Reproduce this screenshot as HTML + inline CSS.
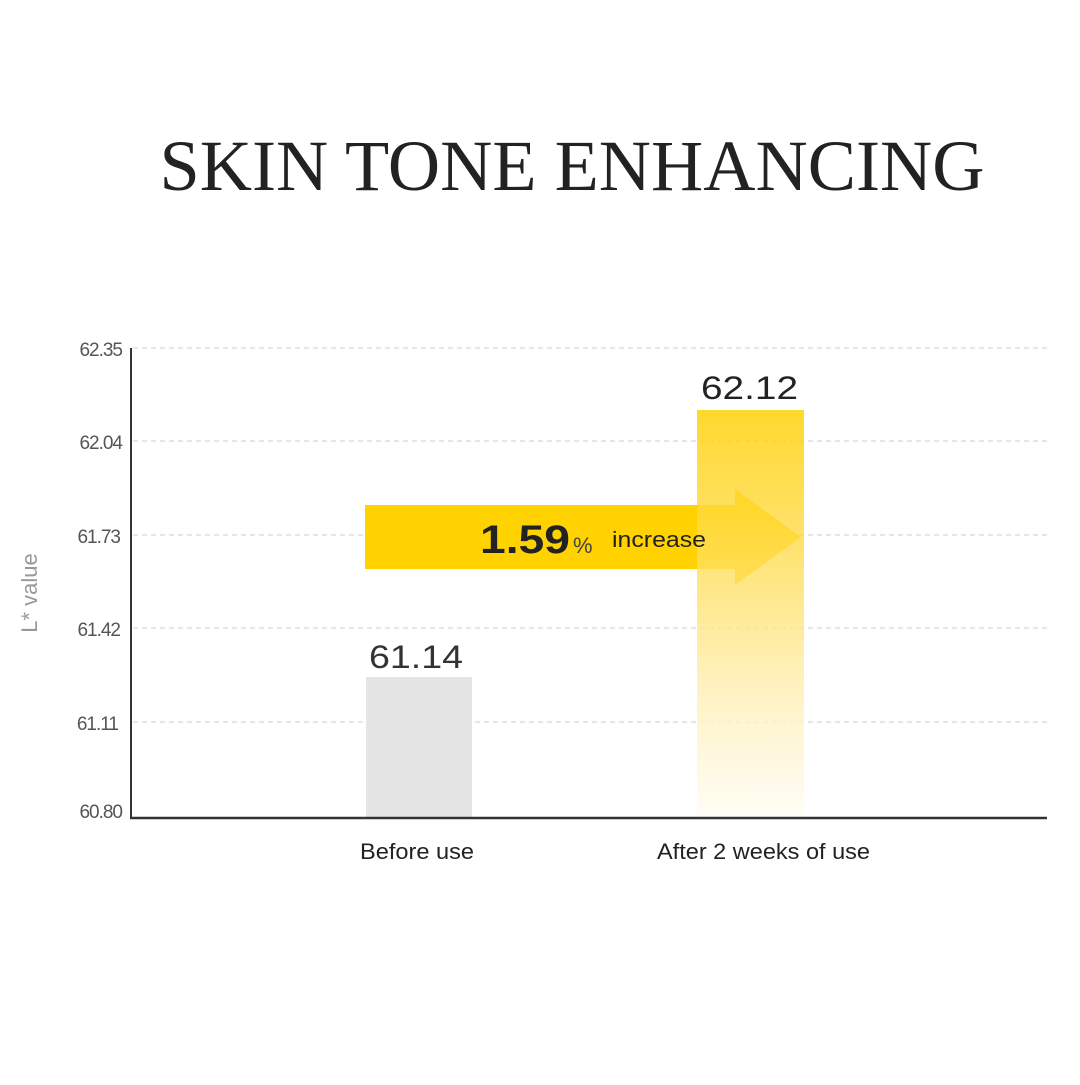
<!DOCTYPE html>
<html><head><meta charset="utf-8"><style>
html,body{margin:0;padding:0;background:#fff;}
body{width:1080px;height:1080px;position:relative;overflow:hidden;}
</style></head><body>
<svg width="1080" height="1080" viewBox="0 0 1080 1080" xmlns="http://www.w3.org/2000/svg">
<defs>
<linearGradient id="yg" x1="0" y1="0" x2="0" y2="1">
<stop offset="0" stop-color="#FFD000"/>
<stop offset="0.35" stop-color="#FFDD55"/>
<stop offset="0.7" stop-color="#FFF0B8"/>
<stop offset="1" stop-color="#FFFDF5"/>
</linearGradient>
</defs>
<text x="572" y="190" text-anchor="middle" font-family="Liberation Serif, serif" font-size="72" fill="#222" textLength="825" lengthAdjust="spacingAndGlyphs">SKIN TONE ENHANCING</text>
<g stroke="#ccc" stroke-width="1" stroke-dasharray="5,4">
<line x1="133" y1="348" x2="1047" y2="348"/>
<line x1="133" y1="441" x2="1047" y2="441"/>
<line x1="133" y1="535" x2="1047" y2="535"/>
<line x1="133" y1="628" x2="1047" y2="628"/>
<line x1="133" y1="722" x2="1047" y2="722"/>
</g>
<g font-family="Liberation Sans, sans-serif" font-size="19" fill="#555" text-anchor="end" letter-spacing="-1">
<text x="122" y="356">62.35</text>
<text x="122" y="449">62.04</text>
<text x="120" y="543">61.73</text>
<text x="120" y="636">61.42</text>
<text x="118" y="730">61.11</text>
<text x="122" y="818">60.80</text>
</g>
<text transform="translate(37,593) rotate(-90)" text-anchor="middle" font-family="Liberation Sans, sans-serif" font-size="22" fill="#999">L* value</text>
<rect x="366" y="677" width="106" height="140" fill="#e5e5e5"/>
<polygon points="365,505 735,505 735,489 801,537 735,585 735,569 365,569" fill="#FFD200"/>
<rect x="697" y="410" width="107" height="407" fill="url(#yg)" fill-opacity="0.82"/>
<line x1="131" y1="348" x2="131" y2="818" stroke="#333" stroke-width="2"/>
<line x1="130" y1="818" x2="1047" y2="818" stroke="#333" stroke-width="2.5"/>
<text x="369" y="668" font-family="Liberation Sans, sans-serif" font-size="32" fill="#333" textLength="94" lengthAdjust="spacingAndGlyphs">61.14</text>
<text x="701" y="399" font-family="Liberation Sans, sans-serif" font-size="32" fill="#222" textLength="97" lengthAdjust="spacingAndGlyphs">62.12</text>
<text x="480" y="553" font-family="Liberation Sans, sans-serif" font-size="40" font-weight="bold" fill="#222" textLength="90" lengthAdjust="spacingAndGlyphs">1.59</text>
<text x="573" y="553" font-family="Liberation Sans, sans-serif" font-size="22" fill="#444">%</text>
<text x="612" y="547" font-family="Liberation Sans, sans-serif" font-size="22" fill="#222" textLength="94" lengthAdjust="spacingAndGlyphs">increase</text>
<text x="360" y="859" font-family="Liberation Sans, sans-serif" font-size="22" fill="#222" textLength="114" lengthAdjust="spacingAndGlyphs">Before use</text>
<text x="657" y="859" font-family="Liberation Sans, sans-serif" font-size="22" fill="#222" textLength="213" lengthAdjust="spacingAndGlyphs">After 2 weeks of use</text>
</svg>
</body></html>
